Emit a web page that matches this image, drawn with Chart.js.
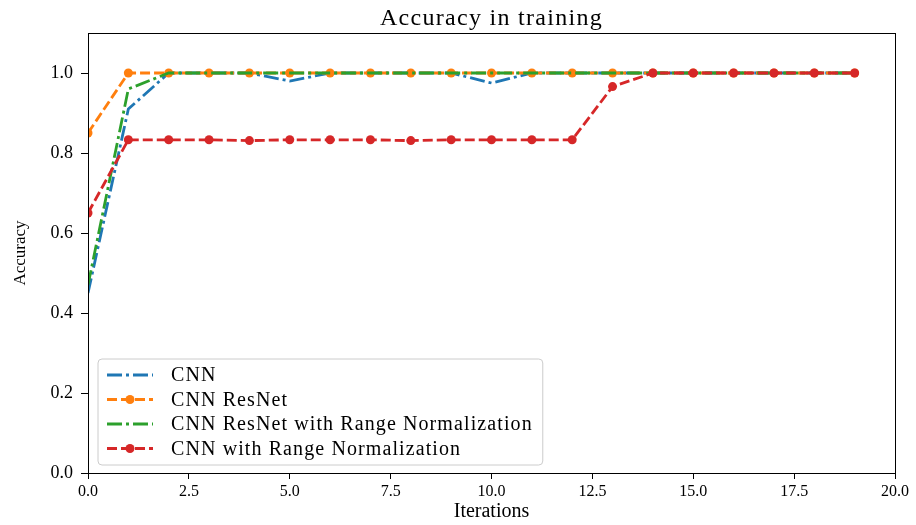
<!DOCTYPE html>
<html>
<head>
<meta charset="utf-8">
<script src="https://cdn.jsdelivr.net/npm/chart.js@4.4.1/dist/chart.umd.min.js"></script>
<style>
  body { margin: 0; background: #fff; }
</style>
</head>
<body>
<canvas id="myChart" width="916" height="525"></canvas>
<script>
const iterations = [0, 1, 2, 3, 4, 5, 6, 7, 8, 9, 10, 11, 12, 13, 14, 15, 16, 17, 18, 19];
const cnn = [0.45, 0.91, 1.0, 1.0, 1.0, 0.98, 1.0, 1.0, 1.0, 1.0, 0.975, 1.0, 1.0, 1.0, 1.0, 1.0, 1.0, 1.0, 1.0, 1.0];
const cnnResNet = [0.85, 1.0, 1.0, 1.0, 1.0, 1.0, 1.0, 1.0, 1.0, 1.0, 1.0, 1.0, 1.0, 1.0, 1.0, 1.0, 1.0, 1.0, 1.0, 1.0];
const cnnResNetRange = [0.47, 0.96, 1.0, 1.0, 1.0, 1.0, 1.0, 1.0, 1.0, 1.0, 1.0, 1.0, 1.0, 1.0, 1.0, 1.0, 1.0, 1.0, 1.0, 1.0];
const cnnRange = [0.65, 0.833, 0.833, 0.833, 0.831, 0.833, 0.833, 0.833, 0.831, 0.833, 0.833, 0.833, 0.833, 0.966, 1.0, 1.0, 1.0, 1.0, 1.0, 1.0];
const xTicks = [0, 2.5, 5, 7.5, 10, 12.5, 15, 17.5, 20];
const yTicks = [0, 0.2, 0.4, 0.6, 0.8, 1.0];

const FONT = "'Liberation Serif', 'DejaVu Serif', serif";
const DASH = [10, 4];
const DASHDOT = [15, 4, 3, 4];

const series = [
  { label: "CNN", data: cnn, color: "#1f77b4", dash: DASHDOT, marker: false, order: 4 },
  { label: "CNN ResNet", data: cnnResNet, color: "#ff7f0e", dash: DASH, marker: true, order: 3 },
  { label: "CNN ResNet with Range Normalization", data: cnnResNetRange, color: "#2ca02c", dash: DASHDOT, marker: false, order: 2 },
  { label: "CNN with Range Normalization", data: cnnRange, color: "#d62728", dash: DASH, marker: true, order: 1 },
];

// frame, title and in-axes legend, matplotlib style
const mplDecor = {
  id: "mplDecor",
  afterDraw(chart) {
    const ctx = chart.ctx;
    const a = chart.chartArea;
    ctx.save();
    ctx.strokeStyle = "#000";
    ctx.lineWidth = 1;
    ctx.setLineDash([]);
    ctx.strokeRect(a.left + 0.5, a.top + 0.5, a.right - a.left, a.bottom - a.top);

    ctx.fillStyle = "#000";
    ctx.font = "24px " + FONT;
    ctx.letterSpacing = "1.3px";
    ctx.textAlign = "center";
    ctx.textBaseline = "alphabetic";
    ctx.fillText("Accuracy in training", (a.left + a.right) / 2, a.top - 8);

    // legend
    ctx.font = "20px " + FONT;
    ctx.letterSpacing = "1.1px";
    ctx.textBaseline = "middle";
    const rowH = 24.5;
    let maxW = 0;
    series.forEach((s) => { maxW = Math.max(maxW, ctx.measureText(s.label).width); });
    const bx = a.left + 10;
    const bh = rowH * series.length + 8;
    const by = a.bottom - 8 - bh;
    const bw = 73 + maxW + 10;
    ctx.fillStyle = "rgba(255,255,255,0.8)";
    ctx.strokeStyle = "#cccccc";
    ctx.beginPath();
    ctx.roundRect(bx, by, bw, bh, 4);
    ctx.fill();
    ctx.stroke();
    series.forEach((s, i) => {
      const cy = by + 16 + i * rowH;
      ctx.strokeStyle = s.color;
      ctx.lineWidth = 2.8;
      ctx.setLineDash(s.dash);
      ctx.beginPath();
      ctx.moveTo(bx + 9, cy);
      ctx.lineTo(bx + 55, cy);
      ctx.stroke();
      ctx.setLineDash([]);
      if (s.marker) {
        ctx.fillStyle = s.color;
        ctx.beginPath();
        ctx.arc(bx + 32, cy, 4.5, 0, Math.PI * 2);
        ctx.fill();
      }
      ctx.fillStyle = "#000";
      ctx.textAlign = "left";
      ctx.fillText(s.label, bx + 73, cy + 1);
    });
    ctx.letterSpacing = "0px";
    ctx.restore();
  },
};

new Chart(document.getElementById("myChart"), {
  type: "line",
  data: {
    labels: iterations,
    datasets: series.map((s) => ({
      label: s.label,
      data: iterations.map((x, i) => ({ x: x, y: s.data[i] })),
      borderColor: s.color,
      backgroundColor: s.color,
      borderWidth: 2.8,
      borderDash: s.dash,
      pointRadius: s.marker ? 4.5 : 0,
      pointBorderWidth: 0,
      pointBackgroundColor: s.color,
      tension: 0,
      fill: false,
      order: s.order,
    })),
  },
  options: {
    responsive: false,
    animation: false,
    events: [],
    layout: { padding: { left: 0, right: 21, top: 33, bottom: 0 } },
    plugins: {
      legend: { display: false },
      title: { display: false },
      tooltip: { enabled: false },
    },
    scales: {
      x: {
        type: "linear",
        min: 0,
        max: 20,
        afterFit: (scale) => { scale.height = 52; },
        afterBuildTicks: (scale) => { scale.ticks = xTicks.map((v) => ({ value: v })); },
        ticks: {
          color: "#000",
          font: { family: FONT, size: 16 },
          padding: 3,
          maxRotation: 0,
          callback: (v) => Number(v).toFixed(1),
        },
        grid: { display: true, drawOnChartArea: false, drawTicks: true, tickLength: 6, color: "#000" },
        border: { display: true, color: "#000", width: 1 },
        title: { display: true, text: "Iterations", color: "#000", font: { family: FONT, size: 20 }, padding: { top: 0, bottom: 1 } },
      },
      y: {
        min: 0,
        max: 1.1,
        afterFit: (scale) => { scale.width = 88; },
        afterBuildTicks: (scale) => { scale.ticks = yTicks.map((v) => ({ value: v })); },
        ticks: {
          color: "#000",
          font: { family: FONT, size: 18 },
          padding: 8,
          callback: (v) => Number(v).toFixed(1),
        },
        grid: { display: true, drawOnChartArea: false, drawTicks: true, tickLength: 7, color: "#000" },
        border: { display: true, color: "#000", width: 1 },
        title: { display: true, text: "Accuracy", color: "#000", font: { family: FONT, size: 17 }, padding: { top: 10, bottom: 0 } },
      },
    },
  },
  plugins: [mplDecor],
});
</script>
</body>
</html>
